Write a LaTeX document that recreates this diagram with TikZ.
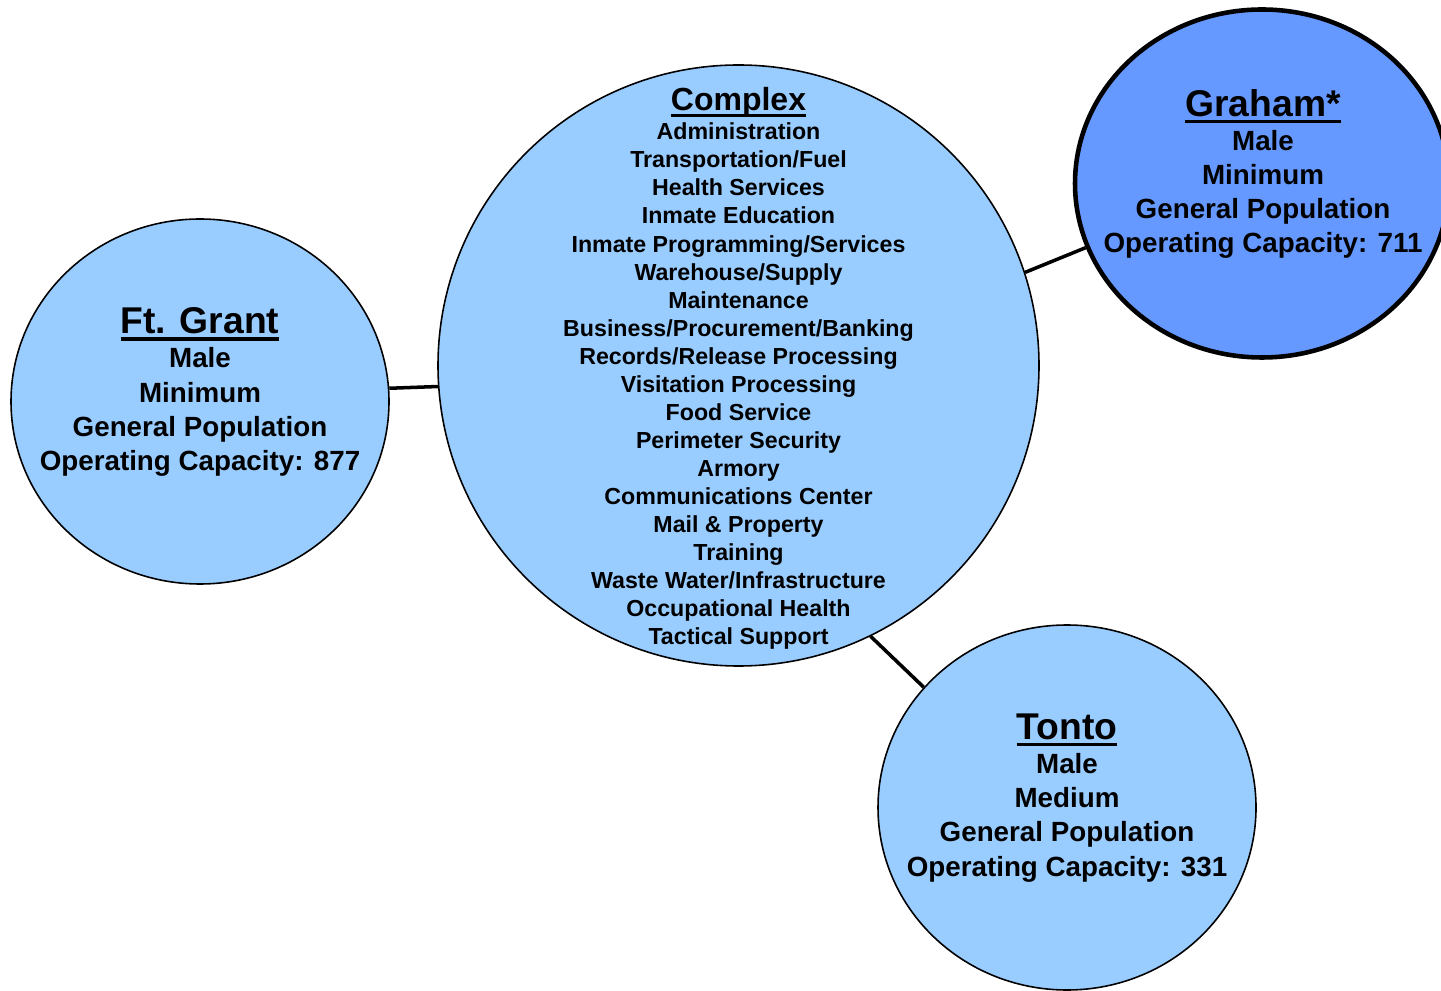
\documentclass[tikz,border=0pt]{standalone}
\usepackage{fontspec}
\setmainfont{Liberation Sans}
\usetikzlibrary{shapes.geometric}
\definecolor{siteblue}{HTML}{99CCFF}
\definecolor{mainblue}{HTML}{6699FF}
\newcommand{\ulbox}[1]{\leavevmode\setbox0\hbox{#1}\rlap{\rule[-1.9pt]{\wd0}{0.95pt}}\box0}

\begin{document}
\begin{tikzpicture}[
  site/.style={ellipse, draw=black, line width=0.45pt, fill=siteblue,
    inner sep=0pt, minimum width=3.78cm, minimum height=3.65cm},
  sitetext/.style={align=center, inner sep=0pt, font=\bfseries\fontsize{7.9}{9.7}\selectfont},
  listtext/.style={align=center, inner sep=0pt, font=\bfseries\fontsize{6.6}{7.97}\selectfont},
  link/.style={line width=1pt}]

  \clip (0,0) rectangle (14.41,9.90);

  % Circles
  \node[site, minimum width=6.01cm, minimum height=6.01cm] (complex) at (7.385,6.245) {};
  \node[site] (grant) at (2.00,5.885) {};
  \node[site, fill=mainblue, line width=1.3pt, minimum width=3.74cm,
    minimum height=3.48cm] (graham) at (12.62,8.065) {};
  \node[site] (tonto) at (10.67,1.825) {};

  % Texts
  \node[listtext] (complextext) at (7.385,6.22) {%
    {\fontsize{9.1}{10}\selectfont\ulbox{Complex}}\\[0.5pt]
    Administration\\ Transportation/Fuel\\ Health Services\\ Inmate Education\\
    Inmate Programming/Services\\ Warehouse/Supply\\ Maintenance\\
    Business/Procurement/Banking\\ Records/Release Processing\\
    Visitation Processing\\ Food Service\\ Perimeter Security\\ Armory\\
    Communications Center\\ Mail \& Property\\ Training\\
    Waste Water/Infrastructure\\ Occupational Health\\ Tactical Support};
  \node[sitetext] (granttext) at (2.00,5.98) {%
    {\fontsize{10.6}{12}\selectfont\ulbox{Ft. Grant}}\\
    Male\\ Minimum\\ General Population\\ Operating Capacity: 877};
  \node[sitetext] (grahamtext) at (12.63,8.16) {%
    {\fontsize{10.6}{12}\selectfont\ulbox{Graham*}}\\
    Male\\ Minimum\\ General Population\\ Operating Capacity: 711};
  \node[sitetext] (tontotext) at (10.67,1.92) {%
    {\fontsize{10.6}{12}\selectfont\ulbox{Tonto}}\\
    Male\\ Medium\\ General Population\\ Operating Capacity: 331};

  % Manually draw edges
  \draw[link] (grant.4) -- (complex.184);
  \draw[link] (complex.18) -- (graham.200);
  \draw[link] (complex.-64.6) -- (tonto.140);

\end{tikzpicture}
\end{document}
